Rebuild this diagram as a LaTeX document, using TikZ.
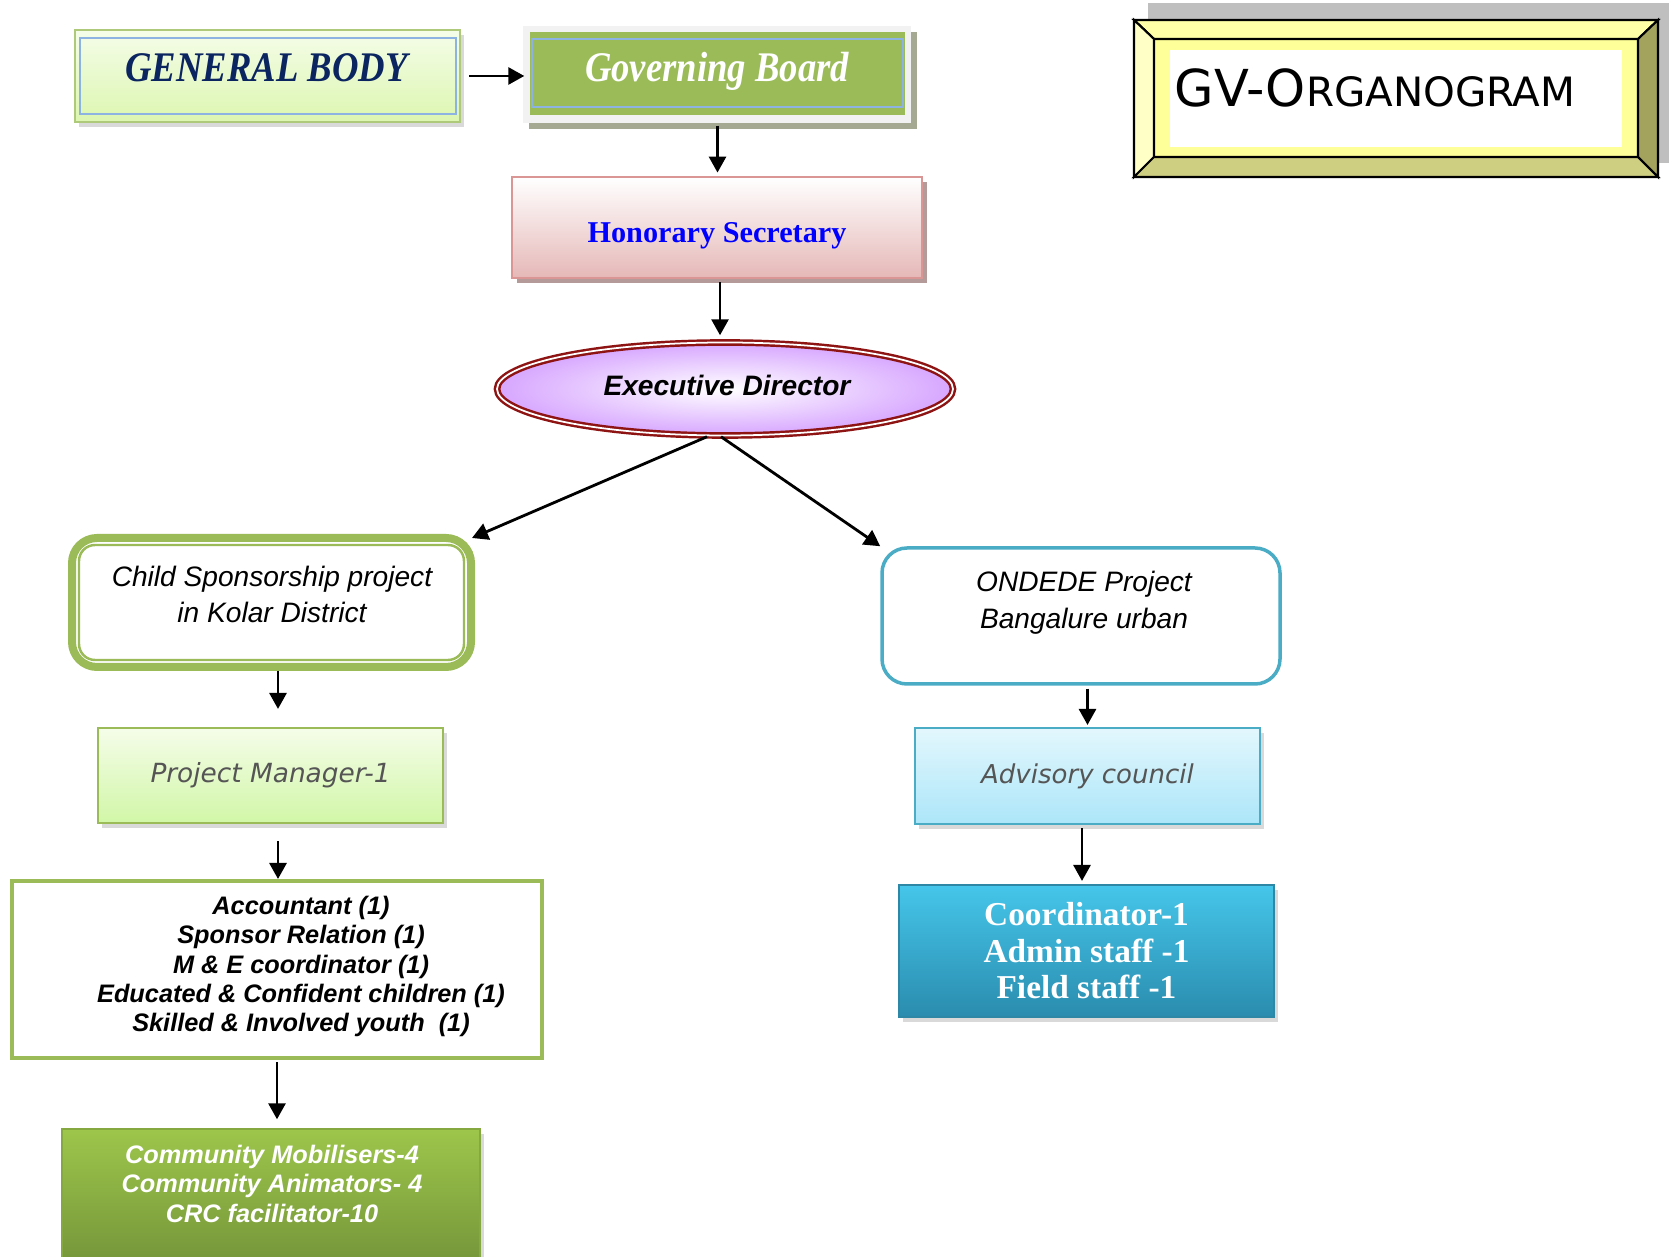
\documentclass[tikz,border=0pt]{standalone}
\usepackage{fontspec}
\setmainfont{Liberation Sans}
\newfontfamily\condtimes{Liberation Serif}[FakeStretch=0.87]
\newfontfamily\timesfont{Liberation Serif}
\newfontfamily\casualfont{DejaVu Sans}[ItalicFont={DejaVu Sans Oblique}]
\usetikzlibrary{arrows.meta,shadows,shapes.geometric,positioning}

\definecolor{gbgreen}{HTML}{9BBB59}
\definecolor{gbtop}{HTML}{F5FDE9}
\definecolor{gbbottom}{HTML}{DCF6B0}
\definecolor{navy}{HTML}{0B2560}
\definecolor{innerblue}{HTML}{8DB3E2}
\definecolor{govframe}{HTML}{F2F2F2}
\definecolor{govshadow}{HTML}{A6A992}
\definecolor{secline}{HTML}{D99694}
\definecolor{secbottom}{HTML}{E5B8B7}
\definecolor{secshadow}{HTML}{B59A9A}
\definecolor{edline}{HTML}{8E1414}
\definecolor{edpurple}{HTML}{D7A6FF}
\definecolor{ondline}{HTML}{4BACC6}
\definecolor{advtop}{HTML}{E3F7FD}
\definecolor{advbottom}{HTML}{ACE6F9}
\definecolor{coordtop}{HTML}{45C6EA}
\definecolor{coordbottom}{HTML}{2A8CAE}
\definecolor{coordline}{HTML}{2F87A6}
\definecolor{commtop}{HTML}{9DC64B}
\definecolor{commbottom}{HTML}{76963A}
\definecolor{casualgray}{HTML}{555555}
\definecolor{gvshadow}{HTML}{BFBFBF}
\definecolor{plateface}{HTML}{FFFF99}
\definecolor{platetop}{HTML}{FFFFA8}
\definecolor{plateleft}{HTML}{FFFFC6}
\definecolor{platebottom}{HTML}{CFCF82}
\definecolor{plateright}{HTML}{A3A35E}

\tikzset{
  arr/.style={-{Triangle[length=0.16cm,width=0.17cm]},line width=0.8pt},
  softshadow/.style={drop shadow={shadow xshift=0.04cm,shadow yshift=-0.05cm,opacity=0.3}},
  innerline/.style={draw=innerblue,line width=0.5pt},
  genbox/.style={draw=gbgreen!80,line width=0.7pt,top color=gbtop,bottom color=gbbottom,
    minimum width=3.85cm,minimum height=0.92cm,softshadow},
  govbox/.style={fill=gbgreen,minimum width=3.75cm,minimum height=0.83cm,
    text=white,font=\condtimes\bfseries\itshape\fontsize{12}{14}\selectfont},
  secbox/.style={draw=secline,line width=0.8pt,top color=white,bottom color=secbottom,
    minimum width=4.1cm,minimum height=1.01cm,
    drop shadow={shadow xshift=0.05cm,shadow yshift=-0.05cm,fill=secshadow,opacity=1}},
  sectext/.style={text=blue,font=\timesfont\bfseries\fontsize{8.6}{10}\selectfont},
  edellipse/.style={ellipse,draw=edline,line width=0.7pt,double=white,double distance=0.5pt,
    inner color=white,outer color=edpurple,minimum width=4.56cm,minimum height=0.93cm,inner sep=0},
  edtext/.style={font=\bfseries\itshape\fontsize{8}{10}\selectfont},
  childbox/.style={draw=gbgreen,line width=0.08cm,rounded corners=0.25cm,fill=white,
    minimum width=3.99cm,minimum height=1.29cm},
  ondbox/.style={draw=ondline,line width=0.035cm,rounded corners=0.25cm,fill=white,
    minimum width=3.98cm,minimum height=1.36cm},
  projtext/.style={align=center,font=\itshape\fontsize{8}{10.5}\selectfont},
  pmbox/.style={draw=gbgreen,line width=0.6pt,top color=gbtop,bottom color=gbbottom!95!green,
    minimum width=3.45cm,minimum height=0.95cm,softshadow,
    text=casualgray,font=\casualfont\itshape\fontsize{7.5}{9}\selectfont},
  advbox/.style={draw=ondline,line width=0.6pt,top color=advtop,bottom color=advbottom,
    minimum width=3.45cm,minimum height=0.96cm,softshadow,
    text=casualgray,font=\casualfont\itshape\fontsize{7.4}{9}\selectfont},
  staffbox/.style={draw=gbgreen,line width=0.04cm,fill=white,minimum width=5.3cm,minimum height=1.77cm},
  stafftext/.style={align=center,font=\bfseries\itshape\fontsize{7.2}{8.3}\selectfont},
  commbox/.style={top color=commtop,bottom color=commbottom,draw=commtop!85!black,line width=0.4pt,
    minimum width=4.18cm,minimum height=1.33cm,softshadow},
  commtext/.style={align=center,text=white,font=\bfseries\itshape\fontsize{7.2}{8.4}\selectfont},
  coordbox/.style={top color=coordtop,bottom color=coordbottom,draw=coordline,line width=0.6pt,
    minimum width=3.75cm,minimum height=1.32cm,softshadow,align=center,
    text=white,font=\timesfont\bfseries\fontsize{9.5}{10.4}\selectfont},
}

\begin{document}
\begin{tikzpicture}
\useasboundingbox (0,0) rectangle (16.69,-12.57);

% title plate
\fill[gvshadow] (11.48,-0.03) rectangle (16.69,-1.63);
\begin{scope}[line width=0.6pt]
\filldraw[fill=plateface] (11.34,-0.20) rectangle (16.58,-1.77);
\filldraw[fill=platetop] (11.34,-0.20) -- (16.58,-0.20) -- (16.38,-0.39) -- (11.54,-0.39) -- cycle;
\filldraw[fill=plateleft] (11.34,-0.20) -- (11.54,-0.39) -- (11.54,-1.57) -- (11.34,-1.77) -- cycle;
\filldraw[fill=platebottom] (11.34,-1.77) -- (16.58,-1.77) -- (16.38,-1.57) -- (11.54,-1.57) -- cycle;
\filldraw[fill=plateright] (16.58,-0.20) -- (16.58,-1.77) -- (16.38,-1.57) -- (16.38,-0.39) -- cycle;
\end{scope}
\fill[white] (11.70,-0.50) rectangle (16.22,-1.47);
\node[anchor=base west,inner sep=0] (gvtitle) at (11.74,-1.07)
  {\casualfont\fontsize{14.5}{16}\selectfont GV-O\fontsize{11.5}{13}\selectfont RGANOGRAM};

% top row
\node[genbox] (genbody) at (2.675,-0.76) {};
\draw[innerline] ([shift={(0.06,-0.09)}]genbody.north west) rectangle ([shift={(-0.05,0.09)}]genbody.south east);
\node[anchor=base,text=navy,font=\condtimes\bfseries\itshape\fontsize{12}{14}\selectfont]
  (genbody-t) at (2.665,-0.815) {GENERAL BODY};

\fill[govframe,drop shadow={shadow xshift=0.06cm,shadow yshift=-0.06cm,fill=govshadow,opacity=1}]
  (5.23,-0.26) rectangle (9.11,-1.23);
\node[govbox] (govboard) at (7.175,-0.735) {};
\draw[innerline] ([shift={(0.03,-0.08)}]govboard.north west) rectangle ([shift={(-0.03,0.09)}]govboard.south east);
\node[anchor=base,text=white,font=\condtimes\bfseries\itshape\fontsize{12}{14}\selectfont]
  (govboard-t) at (7.17,-0.82) {Governing Board};

\node[secbox] (honsec) at (7.17,-2.275) {};
\node[sectext,anchor=base] (honsec-t) at (7.17,-2.43) {Honorary Secretary};
\node[edellipse] (execdir) at (7.25,-3.89) {};
\node[edtext] (execdir-t) at (7.27,-3.85) {Executive Director};

% left branch
\node[childbox] (childsp) at (2.715,-6.025) {};
\draw[gbgreen,line width=0.7pt,rounded corners=0.16cm]
  ([shift={(0.11,-0.11)}]childsp.north west) rectangle ([shift={(-0.11,0.11)}]childsp.south east);
\node[projtext] (childsp-t) at (2.72,-5.945) {Child Sponsorship project\\in Kolar District};

\node[pmbox] (pm) at (2.705,-7.755) {Project Manager-1};

\node[staffbox] (staff) at (2.77,-9.695) {};
\node[stafftext] (staff-t) at (3.01,-9.665) {Accountant (1)\\Sponsor Relation (1)\\M \& E coordinator (1)\\
  Educated \& Confident children (1)\\Skilled \& Involved youth~~(1)};

\node[commbox] (comm) at (2.71,-11.955) {};
\node[commtext] (comm-t) at (2.72,-11.835) {Community Mobilisers-4\\Community Animators- 4\\CRC facilitator-10};

% right branch
\node[ondbox] (ondede) at (10.81,-6.16) {};
\node[projtext] (ondede-t) at (10.84,-6.03) {ONDEDE Project\\Bangalure urban};

\node[advbox] (adv) at (10.875,-7.76) {Advisory council};
\node[coordbox] (coord) at (10.865,-9.51) {Coordinator-1\\Admin staff -1\\Field staff -1};

% arrows
\draw[arr,shorten <=0.08cm,shorten >=0.05cm] (genbody.east) -- (genbody.east -| govboard.west);
\draw[arr,shorten <=0.1cm,shorten >=0.03cm] (govboard.south) -- (govboard.south |- honsec.north);
\draw[arr,shorten <=0.03cm,shorten >=0.06cm] ([xshift=0.03cm]honsec.south) -- ([xshift=0.03cm]honsec.south |- execdir.north);
\draw[arr] ([xshift=-0.18cm]execdir.south) -- ([shift={(-0.03,-0.04)}]childsp.north east);
\draw[arr] ([xshift=-0.04cm]execdir.south) -- (ondede.north west);
\draw[arr,shorten >=0.18cm] ([xshift=0.065cm]childsp.south) -- ([xshift=0.065cm]childsp.south |- pm.north);
\draw[arr,shorten <=0.17cm] ([xshift=0.075cm]pm.south) -- ([xshift=0.075cm]pm.south |- staff.north);
\draw[arr,shorten <=0.02cm,shorten >=0.09cm] (staff.south) -- (staff.south |- comm.north);
\draw[arr,shorten <=0.03cm,shorten >=0.02cm] (adv.north |- ondede.south) -- (adv.north);
\draw[arr,shorten <=0.03cm,shorten >=0.03cm] ([xshift=-0.055cm]adv.south) -- ([xshift=-0.055cm]adv.south |- coord.north);
\end{tikzpicture}
\end{document}
